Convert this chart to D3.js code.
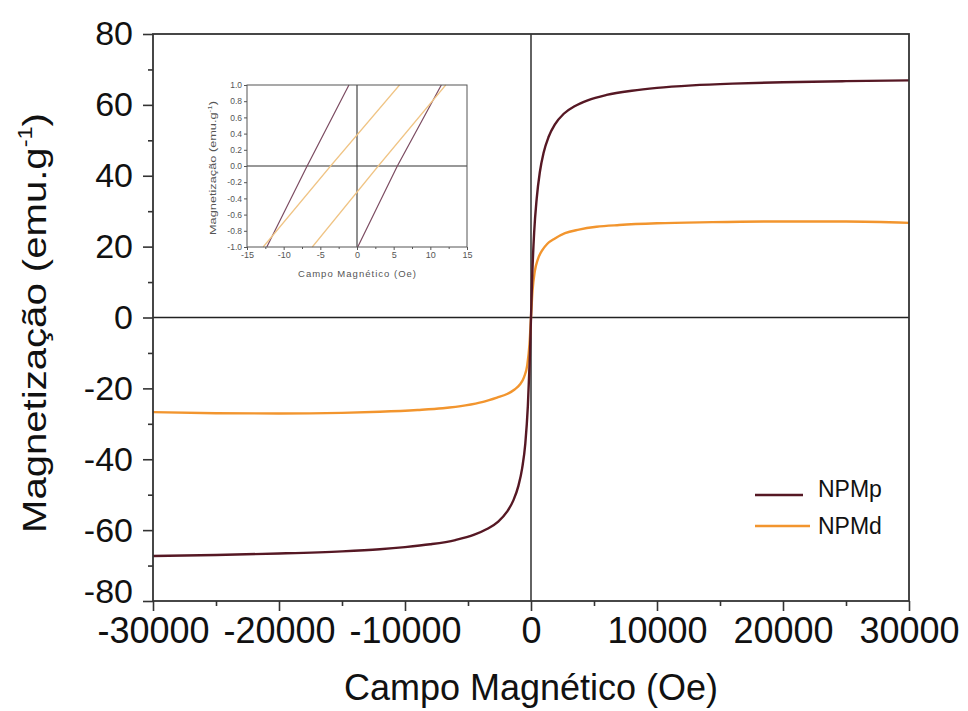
<!DOCTYPE html>
<html>
<head>
<meta charset="utf-8">
<script src="https://cdn.jsdelivr.net/npm/d3@7"></script>
<style>
    body { margin: 0; background: #fff; }
    text { font-family: "Liberation Sans", Arial, sans-serif; }
</style>
</head>
<body>
<div id="chart"></div>
<script>
/**** DATA ****/

// Main hysteresis curves (field in Oe, magnetization in emu/g)
var fieldNPMp = [-30000, -25000, -20000, -15000, -12000, -10000, -8000, -6000, -4500, -3500, -2600, -1900, -1400, -1000, -700, -450, -250, -100, 0,
                 100, 250, 450, 700, 1000, 1400, 1900, 2600, 3500, 4500, 6000, 8000, 10000, 12800, 16000, 20000, 25000, 30000];
var magNPMp = [-67.3, -67.0, -66.6, -66.0, -65.4, -64.8, -64.0, -62.8, -61.3, -59.7, -57.6, -54.8, -51.6, -47.5, -42.5, -35.5, -25.0, -12.0, 0,
               12.0, 24.0, 33.5, 41.0, 46.5, 51.0, 54.5, 57.5, 59.7, 61.3, 62.8, 64.0, 64.8, 65.5, 66.0, 66.4, 66.7, 66.9];

var fieldNPMd = [-30000, -25000, -20000, -15000, -12000, -9000, -7000, -5200, -3800, -2700, -1900, -1300, -900, -550, -300, -120, 0,
                 120, 300, 550, 900, 1300, 1900, 2700, 3800, 5200, 7000, 10000, 14400, 20000, 25000, 30000];
var magNPMd = [-26.7, -27.0, -27.1, -26.9, -26.6, -26.1, -25.6, -24.8, -23.8, -22.6, -21.6, -20.3, -19.0, -16.8, -13.5, -7.5, 0,
               7.5, 13.0, 16.5, 19.0, 20.8, 22.3, 23.8, 24.8, 25.6, 26.1, 26.6, 26.9, 27.1, 27.1, 26.7];

// Inset: zoom around the origin, two branches per sample
var insetFieldNPMp = [[-12.3, -6.8, -1.1], [0.1, 5.5, 11.5]];
var insetMagNPMp = [[-1.0, 0.0, 1.0], [-1.0, 0.0, 1.0]];
var insetFieldNPMd = [[-12.8, -3.6, 5.8], [-6.1, 2.9, 12.1]];
var insetMagNPMd = [[-1.0, 0.0, 1.0], [-1.0, 0.0, 1.0]];

var seriesNames = ['NPMp', 'NPMd'];
var seriesColors = ['#561824', '#f2952e'];
var insetColors = ['#7c4c62', '#f0c484'];

var xTicks = [-30000, -20000, -10000, 0, 10000, 20000, 30000];
var yTicks = [-80, -60, -40, -20, 0, 20, 40, 60, 80];
var insetXTicks = [-15, -10, -5, 0, 5, 10, 15];
var insetYTicks = [-1.0, -0.8, -0.6, -0.4, -0.2, 0.0, 0.2, 0.4, 0.6, 0.8, 1.0];

/**** LAYOUT ****/
var width = 968,
    height = 711;
var plot = {left: 153, right: 909, top: 34, bottom: 601};
var inset = {left: 247, right: 467, top: 85, bottom: 247};

// plain hyphen instead of the unicode minus
function hyphen(fmt) {
    var f = d3.format(fmt);
    return function(d) { return f(d).replace('\u2212', '-'); };
}

var svg = d3.select('#chart')
    .append('svg')
    .attr('width', width)
    .attr('height', height);

// Scales
var x = d3.scaleLinear().domain([-30000, 30000]).range([plot.left, plot.right]),
    y = d3.scaleLinear().domain([-80, 80]).range([plot.bottom, plot.top]);

var line = d3.line()
    .x(function(d) { return x(d[0]); })
    .y(function(d) { return y(d[1]); })
    .curve(d3.curveMonotoneX);

/**** MAIN PLOT ****/

// Zero lines
svg.append('line')
    .attr('x1', x(0)).attr('x2', x(0))
    .attr('y1', plot.top).attr('y2', plot.bottom)
    .attr('stroke', '#222').attr('stroke-width', 1.4);
svg.append('line')
    .attr('x1', plot.left).attr('x2', plot.right)
    .attr('y1', y(0)).attr('y2', y(0))
    .attr('stroke', '#222').attr('stroke-width', 1.4);

// Curves (NPMd first so NPMp sits on top)
var mainSeries = [d3.zip(fieldNPMp, magNPMp), d3.zip(fieldNPMd, magNPMd)];
[1, 0].forEach(function(k) {
    svg.append('path')
        .datum(mainSeries[k])
        .attr('d', line)
        .attr('fill', 'none')
        .attr('stroke', seriesColors[k])
        .attr('stroke-width', 2.4);
});

// Frame
svg.append('rect')
    .attr('x', plot.left).attr('y', plot.top)
    .attr('width', plot.right - plot.left)
    .attr('height', plot.bottom - plot.top)
    .attr('fill', 'none')
    .attr('stroke', '#333')
    .attr('stroke-width', 1.8);

// Axes
var xAxis = d3.axisBottom(x).tickValues(xTicks).tickSize(10).tickPadding(6).tickFormat(hyphen('d'));
var gx = svg.append('g')
    .attr('transform', 'translate(0,' + plot.bottom + ')')
    .call(xAxis);
gx.select('.domain').remove();
gx.selectAll('.tick line').attr('stroke', '#333').attr('stroke-width', 1.6);
gx.selectAll('.tick text')
    .attr('fill', '#111')
    .style('font-size', '36px')
    .attr('dy', '0.71em');

var xMinor = d3.axisBottom(x).tickValues(d3.range(-25000, 30000, 10000)).tickSize(5).tickFormat('');
var gxm = svg.append('g')
    .attr('transform', 'translate(0,' + plot.bottom + ')')
    .call(xMinor);
gxm.select('.domain').remove();
gxm.selectAll('.tick line').attr('stroke', '#333').attr('stroke-width', 1.6);

var yAxis = d3.axisLeft(y).tickValues(yTicks).tickSize(10).tickPadding(10).tickFormat(hyphen('d'));
var gy = svg.append('g')
    .attr('transform', 'translate(' + plot.left + ',0)')
    .call(yAxis);
gy.select('.domain').remove();
gy.selectAll('.tick line').attr('stroke', '#333').attr('stroke-width', 1.6);
gy.selectAll('.tick text')
    .attr('fill', '#111')
    .style('font-size', '34px');
// the bottom label sits just above the -30000 label
gy.selectAll('.tick text').filter(function(d) { return d === -80; }).attr('dy', '0.05em');

var yMinor = d3.axisLeft(y).tickValues(d3.range(-70, 80, 20)).tickSize(5).tickFormat('');
var gym = svg.append('g')
    .attr('transform', 'translate(' + plot.left + ',0)')
    .call(yMinor);
gym.select('.domain').remove();
gym.selectAll('.tick line').attr('stroke', '#333').attr('stroke-width', 1.6);

// Axis titles
svg.append('text')
    .attr('x', (plot.left + plot.right) / 2)
    .attr('y', 700)
    .attr('text-anchor', 'middle')
    .attr('fill', '#111')
    .style('font-size', '36px')
    .text('Campo Magnético (Oe)');

var yTitle = svg.append('text')
    .attr('transform', 'translate(46,' + 323 + ') rotate(-90)')
    .attr('text-anchor', 'middle')
    .attr('fill', '#111')
    .style('font-size', '34px')
    .attr('textLength', 420)
    .attr('lengthAdjust', 'spacingAndGlyphs');
yTitle.append('tspan').text('Magnetização (emu.g');
yTitle.append('tspan').attr('dy', -14).style('font-size', '20px').text('-1');
yTitle.append('tspan').attr('dy', 14).text(')');

// Legend
var legendY = [495, 526];
var legendBase = [497, 534];
seriesNames.forEach(function(name, i) {
    svg.append('line')
        .attr('x1', 755).attr('x2', i === 0 ? 803 : 810)
        .attr('y1', legendY[i]).attr('y2', legendY[i])
        .attr('stroke', seriesColors[i])
        .attr('stroke-width', 2.4);
    svg.append('text')
        .attr('x', 818)
        .attr('y', legendBase[i])
        .attr('fill', '#111')
        .style('font-size', '23px')
        .text(name);
});

/**** INSET ****/
var xi = d3.scaleLinear().domain([-15, 15]).range([inset.left, inset.right]),
    yi = d3.scaleLinear().domain([-1, 1]).range([inset.bottom, inset.top]);

var insetLine = d3.line()
    .x(function(d) { return xi(d[0]); })
    .y(function(d) { return yi(d[1]); });

var gi = svg.append('g');

gi.append('line')
    .attr('x1', xi(0)).attr('x2', xi(0))
    .attr('y1', inset.top).attr('y2', inset.bottom)
    .attr('stroke', '#333').attr('stroke-width', 1.1);
gi.append('line')
    .attr('x1', inset.left).attr('x2', inset.right)
    .attr('y1', yi(0)).attr('y2', yi(0))
    .attr('stroke', '#333').attr('stroke-width', 1.1);

var insetSets = [[insetFieldNPMp, insetMagNPMp], [insetFieldNPMd, insetMagNPMd]];
insetSets.forEach(function(set, k) {
    set[0].forEach(function(fields, b) {
        gi.append('path')
            .datum(d3.zip(fields, set[1][b]))
            .attr('d', insetLine)
            .attr('fill', 'none')
            .attr('stroke', insetColors[k])
            .attr('stroke-width', 1.2);
    });
});

gi.append('rect')
    .attr('x', inset.left).attr('y', inset.top)
    .attr('width', inset.right - inset.left)
    .attr('height', inset.bottom - inset.top)
    .attr('fill', 'none')
    .attr('stroke', '#555')
    .attr('stroke-width', 1);

var gix = gi.append('g')
    .attr('transform', 'translate(0,' + inset.bottom + ')')
    .call(d3.axisBottom(xi).tickValues(insetXTicks).tickSize(3).tickPadding(2).tickFormat(hyphen('d')));
gix.select('.domain').remove();
gix.selectAll('.tick line').attr('stroke', '#555');
gix.selectAll('.tick text').attr('fill', '#555').style('font-size', '9px');

var gixm = gi.append('g')
    .attr('transform', 'translate(0,' + inset.bottom + ')')
    .call(d3.axisBottom(xi).tickValues(d3.range(-12.5, 15, 5)).tickSize(2).tickFormat(''));
gixm.select('.domain').remove();
gixm.selectAll('.tick line').attr('stroke', '#555');

var giy = gi.append('g')
    .attr('transform', 'translate(' + inset.left + ',0)')
    .call(d3.axisLeft(yi).tickValues(insetYTicks).tickSize(3).tickPadding(2).tickFormat(hyphen('.1f')));
giy.select('.domain').remove();
giy.selectAll('.tick line').attr('stroke', '#555');
giy.selectAll('.tick text').attr('fill', '#555').style('font-size', '8.5px');

gi.append('text')
    .attr('x', (inset.left + inset.right) / 2)
    .attr('y', 277)
    .attr('text-anchor', 'middle')
    .attr('fill', '#555')
    .style('font-size', '9.5px')
    .attr('textLength', 118)
    .attr('lengthAdjust', 'spacing')
    .text('Campo Magnético (Oe)');

var iTitle = gi.append('text')
    .attr('transform', 'translate(216,168) rotate(-90)')
    .attr('text-anchor', 'middle')
    .attr('fill', '#555')
    .style('font-size', '9.5px')
    .attr('textLength', 134)
    .attr('lengthAdjust', 'spacingAndGlyphs');
iTitle.append('tspan').text('Magnetização (emu.g');
iTitle.append('tspan').attr('dy', -4).style('font-size', '6px').text('-1');
iTitle.append('tspan').attr('dy', 4).text(')');
</script>
</body>
</html>
